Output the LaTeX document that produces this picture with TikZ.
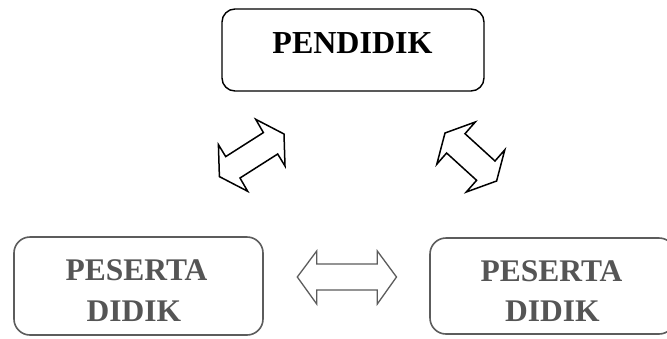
\documentclass[tikz,border=0pt]{standalone}
\usepackage{fontspec}
\setmainfont{Liberation Serif}
\definecolor{boxgray}{RGB}{92,92,92}
\definecolor{textgray}{RGB}{85,85,85}
\begin{document}
\begin{tikzpicture}[x=1pt,y=-1pt,
  topbox/.style={draw=black, line width=1.4pt, rounded corners=13pt, minimum width=262pt, minimum height=82pt, inner sep=0pt},
  botbox/.style={draw=boxgray, line width=1.6pt, rounded corners=16pt, inner sep=0pt},
  toplabel/.style={font=\fontsize{32}{38}\selectfont\bfseries, anchor=base, inner sep=0pt},
  botlabel/.style={font=\fontsize{31.5}{38}\selectfont\bfseries, text=textgray, anchor=base, inner sep=0pt},
  bigarrow/.style={draw=black, line width=1.5pt, line join=miter, fill=white},
  midarrow/.style={draw=boxgray, line width=1.3pt, line join=miter, fill=white}]
\path[use as bounding box] (0,0) rectangle (667,338);
\clip (0,0) rectangle (667,338);
\fill[white] (0,0) rectangle (667,338);

% boxes
\node[topbox] (pendidik) at (353,50) {};
\node[toplabel] (pendidiktext) at (352.5,53.3) {PENDIDIK};

\node[botbox, minimum width=249pt, minimum height=98pt] (pesertaA) at (138.5,286) {};
\node[botlabel] (pesertaAone) at (136.5,280.5) {PESERTA};
\node[botlabel] (pesertaAtwo) at (134,321.7) {DIDIK};

\node[botbox, minimum width=245pt, minimum height=96pt] (pesertaB) at (552.5,286) {};
\node[botlabel] (pesertaBone) at (551.5,281) {PESERTA};
\node[botlabel] (pesertaBtwo) at (552.5,321.7) {DIDIK};

% left block arrow
\draw[bigarrow, shift={(251.7,155.3)}]
  (11.7,-22.7) -- (4,-36) -- (32.3,-21.3) -- (33.3,10.7) -- (26,-1.3)
  -- (-11.7,22.7) -- (-4,36) -- (-32.3,21.3) -- (-33.3,-10.7) -- (-26,1.3) -- cycle;

% right block arrow
\draw[bigarrow, shift={(470.8,157)}]
  (-5.8,-23.3) -- (4.5,-35) -- (-25.8,-24) -- (-34,7.2) -- (-24.2,-4)
  -- (5.8,23.3) -- (-4.5,35) -- (25.8,24) -- (34,-7.2) -- (24.2,4) -- cycle;

% middle block arrow
\draw[midarrow, shift={(346.9,277)}]
  (-49.6,0) -- (-30.2,-26) -- (-30.2,-13) -- (30.4,-13) -- (30.4,-26) -- (49.6,0)
  -- (30.4,27) -- (30.4,13) -- (-30.2,13) -- (-30.2,27) -- cycle;
\end{tikzpicture}
\end{document}
